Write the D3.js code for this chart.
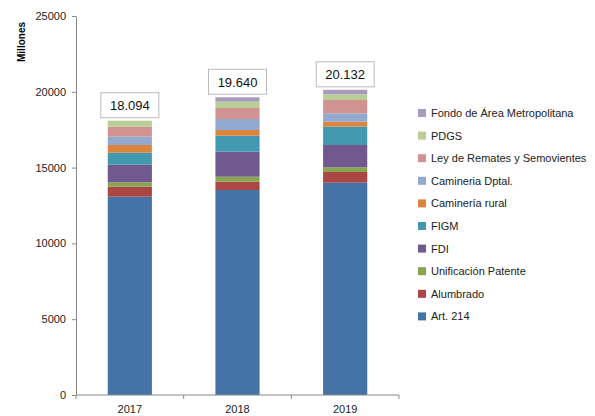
<!DOCTYPE html>
<html>
<head>
<meta charset="utf-8">
<script src="https://cdn.jsdelivr.net/npm/d3@7"></script>
<style>
  body { margin: 0; background: #fff; }
  svg { font-family: "Liberation Sans", Arial, sans-serif; }
</style>
</head>
<body>
<div id="chart"></div>
<script>
// ---- data (Millones) ----
const years = ['2017', '2018', '2019'];
const totals = ['18.094', '19.640', '20.132'];
const seriesNames = ['Art. 214', 'Alumbrado', 'Unificación Patente', 'FDI', 'FIGM',
    'Caminería rural', 'Camineria Dptal.', 'Ley de Remates y Semovientes', 'PDGS',
    'Fondo de Área Metropolitana'];
const art214      = [13080, 13520, 14005];
const alumbrado   = [660, 550, 705];
const unificacion = [290, 330, 310];
const fdi         = [1160, 1650, 1470];
const figm        = [790, 1055, 1210];
const camRural    = [510, 375, 330];
const camDptal    = [550, 726, 550];
const leyRemates  = [660, 725, 880];
const pdgs        = [394, 419, 375];
const fondoAM     = [0, 290, 297];
const yTicks = [0, 5000, 10000, 15000, 20000, 25000];

const colors = ['#4572A7', '#AA4643', '#89A54E', '#71588F', '#4198AF',
    '#DB843D', '#93A9CF', '#D19392', '#B9CD96', '#A99BBD'];

const seriesVals = [art214, alumbrado, unificacion, fdi, figm, camRural, camDptal, leyRemates, pdgs, fondoAM];
const rows = years.map((y, i) => {
    let r = {year: y};
    seriesNames.forEach((s, k) => r[s] = seriesVals[k][i]);
    return r;
});

// ---- layout ----
const svgWidth = 595, svgHeight = 416;
const margin = {top: 16, left: 76, right: 196, bottom: 21};
const width = svgWidth - margin.left - margin.right;
const height = svgHeight - margin.top - margin.bottom;

const svg = d3.select('#chart').append('svg')
    .attr('width', svgWidth)
    .attr('height', svgHeight);
const g = svg.append('g').attr('transform', `translate(${margin.left},${margin.top})`);

const x = d3.scaleBand().domain(years).range([0, width]).paddingInner(0.59).paddingOuter(0.295);
const xBand = d3.scaleBand().domain(years).range([0, width]);
const y = d3.scaleLinear().domain([0, 25000]).range([height, 0]);

const stack = d3.stack().keys(seriesNames)(rows);

// bars
g.selectAll('g.layer').data(stack).enter()
    .append('g').attr('class', 'layer')
    .attr('fill', (d, i) => colors[i])
    .selectAll('rect').data(d => d).enter()
    .append('rect')
    .attr('x', d => x(d.data.year))
    .attr('y', d => y(d[1]))
    .attr('width', x.bandwidth())
    .attr('height', d => y(d[0]) - y(d[1]));

// y axis
const yAxis = g.append('g')
    .call(d3.axisLeft(y).tickValues(yTicks).tickSize(4).tickSizeOuter(0).tickFormat(d3.format('d')));
yAxis.select('.domain').attr('stroke', '#888');
yAxis.selectAll('.tick line').attr('stroke', '#888');
yAxis.selectAll('.tick text').attr('x', -10).attr('font-size', 11).attr('fill', '#222');

// x axis (ticks at category boundaries)
const xAxisG = g.append('g').attr('transform', `translate(0,${height})`);
xAxisG.append('line').attr('x1', 0).attr('x2', width).attr('stroke', '#888');
const bounds = years.map(d => xBand(d)).concat([width]);
xAxisG.selectAll('line.tk').data(bounds).enter()
    .append('line').attr('class', 'tk')
    .attr('x1', d => d).attr('x2', d => d)
    .attr('y1', 0).attr('y2', 4)
    .attr('stroke', '#888');
xAxisG.selectAll('text').data(years).enter()
    .append('text')
    .attr('x', d => x(d) + x.bandwidth() / 2)
    .attr('y', 18)
    .attr('text-anchor', 'middle')
    .attr('font-size', 11)
    .attr('fill', '#222')
    .text(d => d);

// y title
svg.append('text')
    .attr('transform', 'translate(25,42) rotate(-90)')
    .attr('text-anchor', 'middle')
    .attr('font-size', 10)
    .attr('font-weight', 'bold')
    .text('Millones');

// total labels
const lblW = 58, lblH = 25;
const lbl = g.selectAll('g.tot').data(rows).enter()
    .append('g').attr('class', 'tot')
    .attr('transform', (d, i) => {
        const top = y(d3.sum(seriesNames, s => d[s]));
        return `translate(${x(d.year) + x.bandwidth() / 2},${top - 3 - lblH})`;
    });
lbl.append('rect')
    .attr('x', -lblW / 2).attr('y', 0)
    .attr('width', lblW).attr('height', lblH)
    .attr('fill', '#fff').attr('stroke', '#bbb');
lbl.append('text')
    .attr('x', 0).attr('y', lblH / 2 + 5)
    .attr('text-anchor', 'middle')
    .attr('font-size', 13)
    .attr('fill', '#111')
    .text((d, i) => totals[i]);

// legend
const legendOrder = seriesNames.slice().reverse();
const leg = svg.append('g').attr('transform', 'translate(418,113)');
const item = leg.selectAll('g').data(legendOrder).enter()
    .append('g')
    .attr('transform', (d, i) => `translate(0,${i * 22.6})`);
item.append('rect')
    .attr('x', 0).attr('y', -4)
    .attr('width', 8).attr('height', 8)
    .attr('fill', d => colors[seriesNames.indexOf(d)]);
item.append('text')
    .attr('x', 13).attr('y', 4)
    .attr('font-size', 11)
    .attr('fill', '#222')
    .text(d => d);
</script>
</body>
</html>
